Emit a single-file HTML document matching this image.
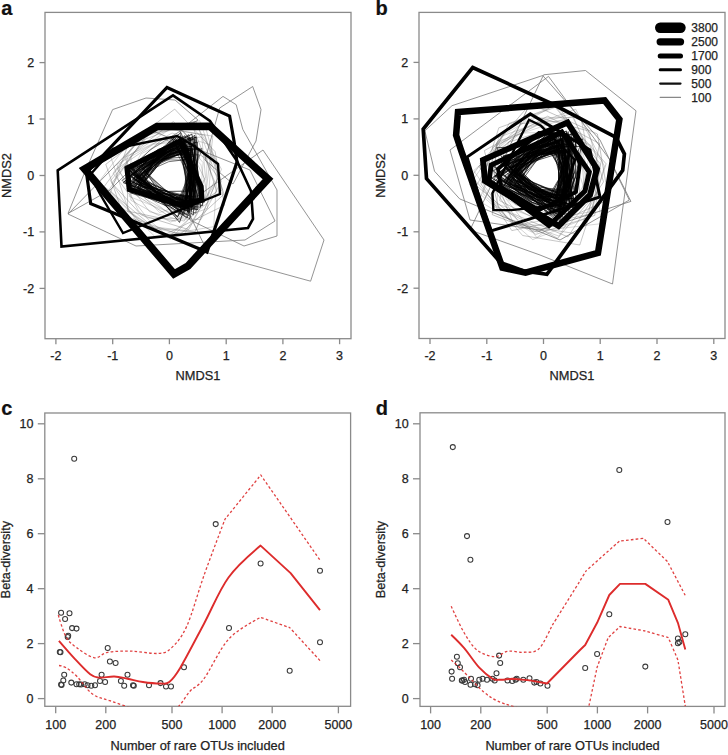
<!DOCTYPE html><html><head><meta charset="utf-8"><style>html,body{margin:0;padding:0;background:#fff;width:728px;height:755px;overflow:hidden}</style></head><body><svg width="728" height="755" viewBox="0 0 728 755" style="display:block">
<defs><clipPath id="ca"><rect x="45" y="12.4" width="306" height="326.3"/></clipPath><clipPath id="cb"><rect x="419" y="12.4" width="306" height="326.1"/></clipPath><clipPath id="cc"><rect x="44.8" y="413" width="305.8" height="293.3"/></clipPath><clipPath id="cd"><rect x="420" y="412.8" width="305" height="293.6"/></clipPath></defs>
<rect width="728" height="755" fill="#fff"/>
<text x="1.2" y="14.8" font-size="20" text-anchor="start" fill="#111" stroke="#111" stroke-width="0.2" font-weight="bold" font-family="Liberation Sans, sans-serif">a</text>
<text x="375.5" y="15.3" font-size="20" text-anchor="start" fill="#111" stroke="#111" stroke-width="0.2" font-weight="bold" font-family="Liberation Sans, sans-serif">b</text>
<text x="1.2" y="415.3" font-size="20" text-anchor="start" fill="#111" stroke="#111" stroke-width="0.2" font-weight="bold" font-family="Liberation Sans, sans-serif">c</text>
<text x="375.8" y="415.3" font-size="20" text-anchor="start" fill="#111" stroke="#111" stroke-width="0.2" font-weight="bold" font-family="Liberation Sans, sans-serif">d</text>
<rect x="45" y="12.4" width="306" height="326.3" fill="none" stroke="#8a8a8a" stroke-width="1.3"/>
<line x1="55.9" y1="338.7" x2="55.9" y2="344.2" stroke="#8a8a8a" stroke-width="1.3"/>
<text x="55.9" y="359.7" font-size="12.5" text-anchor="middle" fill="#222" stroke="#222" stroke-width="0.25" font-weight="normal" font-family="Liberation Sans, sans-serif">-2</text>
<line x1="112.7" y1="338.7" x2="112.7" y2="344.2" stroke="#8a8a8a" stroke-width="1.3"/>
<text x="112.7" y="359.7" font-size="12.5" text-anchor="middle" fill="#222" stroke="#222" stroke-width="0.25" font-weight="normal" font-family="Liberation Sans, sans-serif">-1</text>
<line x1="169.4" y1="338.7" x2="169.4" y2="344.2" stroke="#8a8a8a" stroke-width="1.3"/>
<text x="169.4" y="359.7" font-size="12.5" text-anchor="middle" fill="#222" stroke="#222" stroke-width="0.25" font-weight="normal" font-family="Liberation Sans, sans-serif">0</text>
<line x1="226.2" y1="338.7" x2="226.2" y2="344.2" stroke="#8a8a8a" stroke-width="1.3"/>
<text x="226.2" y="359.7" font-size="12.5" text-anchor="middle" fill="#222" stroke="#222" stroke-width="0.25" font-weight="normal" font-family="Liberation Sans, sans-serif">1</text>
<line x1="282.9" y1="338.7" x2="282.9" y2="344.2" stroke="#8a8a8a" stroke-width="1.3"/>
<text x="282.9" y="359.7" font-size="12.5" text-anchor="middle" fill="#222" stroke="#222" stroke-width="0.25" font-weight="normal" font-family="Liberation Sans, sans-serif">2</text>
<line x1="339.6" y1="338.7" x2="339.6" y2="344.2" stroke="#8a8a8a" stroke-width="1.3"/>
<text x="339.6" y="359.7" font-size="12.5" text-anchor="middle" fill="#222" stroke="#222" stroke-width="0.25" font-weight="normal" font-family="Liberation Sans, sans-serif">3</text>
<line x1="39.5" y1="62.6" x2="45.0" y2="62.6" stroke="#8a8a8a" stroke-width="1.3"/>
<text x="34.2" y="67.0" font-size="12.5" text-anchor="end" fill="#222" stroke="#222" stroke-width="0.25" font-weight="normal" font-family="Liberation Sans, sans-serif">2</text>
<line x1="39.5" y1="119.0" x2="45.0" y2="119.0" stroke="#8a8a8a" stroke-width="1.3"/>
<text x="34.2" y="123.5" font-size="12.5" text-anchor="end" fill="#222" stroke="#222" stroke-width="0.25" font-weight="normal" font-family="Liberation Sans, sans-serif">1</text>
<line x1="39.5" y1="175.5" x2="45.0" y2="175.5" stroke="#8a8a8a" stroke-width="1.3"/>
<text x="34.2" y="179.9" font-size="12.5" text-anchor="end" fill="#222" stroke="#222" stroke-width="0.25" font-weight="normal" font-family="Liberation Sans, sans-serif">0</text>
<line x1="39.5" y1="231.9" x2="45.0" y2="231.9" stroke="#8a8a8a" stroke-width="1.3"/>
<text x="34.2" y="236.3" font-size="12.5" text-anchor="end" fill="#222" stroke="#222" stroke-width="0.25" font-weight="normal" font-family="Liberation Sans, sans-serif">-1</text>
<line x1="39.5" y1="288.4" x2="45.0" y2="288.4" stroke="#8a8a8a" stroke-width="1.3"/>
<text x="34.2" y="292.8" font-size="12.5" text-anchor="end" fill="#222" stroke="#222" stroke-width="0.25" font-weight="normal" font-family="Liberation Sans, sans-serif">-2</text>
<text x="198.0" y="379.6" font-size="12.8" text-anchor="middle" fill="#222" stroke="#222" stroke-width="0.25" font-weight="normal" font-family="Liberation Sans, sans-serif">NMDS1</text>
<text x="11.0" y="175.5" font-size="12.8" text-anchor="middle" fill="#222" stroke="#222" stroke-width="0.25" font-weight="normal" font-family="Liberation Sans, sans-serif" transform="rotate(-90 11 175.54999999999998)">NMDS2</text>
<rect x="419" y="12.4" width="306" height="326.1" fill="none" stroke="#8a8a8a" stroke-width="1.3"/>
<line x1="430.0" y1="338.5" x2="430.0" y2="344.0" stroke="#8a8a8a" stroke-width="1.3"/>
<text x="430.0" y="359.7" font-size="12.5" text-anchor="middle" fill="#222" stroke="#222" stroke-width="0.25" font-weight="normal" font-family="Liberation Sans, sans-serif">-2</text>
<line x1="486.8" y1="338.5" x2="486.8" y2="344.0" stroke="#8a8a8a" stroke-width="1.3"/>
<text x="486.8" y="359.7" font-size="12.5" text-anchor="middle" fill="#222" stroke="#222" stroke-width="0.25" font-weight="normal" font-family="Liberation Sans, sans-serif">-1</text>
<line x1="543.5" y1="338.5" x2="543.5" y2="344.0" stroke="#8a8a8a" stroke-width="1.3"/>
<text x="543.5" y="359.7" font-size="12.5" text-anchor="middle" fill="#222" stroke="#222" stroke-width="0.25" font-weight="normal" font-family="Liberation Sans, sans-serif">0</text>
<line x1="600.2" y1="338.5" x2="600.2" y2="344.0" stroke="#8a8a8a" stroke-width="1.3"/>
<text x="600.2" y="359.7" font-size="12.5" text-anchor="middle" fill="#222" stroke="#222" stroke-width="0.25" font-weight="normal" font-family="Liberation Sans, sans-serif">1</text>
<line x1="657.0" y1="338.5" x2="657.0" y2="344.0" stroke="#8a8a8a" stroke-width="1.3"/>
<text x="657.0" y="359.7" font-size="12.5" text-anchor="middle" fill="#222" stroke="#222" stroke-width="0.25" font-weight="normal" font-family="Liberation Sans, sans-serif">2</text>
<line x1="713.8" y1="338.5" x2="713.8" y2="344.0" stroke="#8a8a8a" stroke-width="1.3"/>
<text x="713.8" y="359.7" font-size="12.5" text-anchor="middle" fill="#222" stroke="#222" stroke-width="0.25" font-weight="normal" font-family="Liberation Sans, sans-serif">3</text>
<line x1="413.5" y1="62.4" x2="419.0" y2="62.4" stroke="#8a8a8a" stroke-width="1.3"/>
<text x="408.2" y="66.8" font-size="12.5" text-anchor="end" fill="#222" stroke="#222" stroke-width="0.25" font-weight="normal" font-family="Liberation Sans, sans-serif">2</text>
<line x1="413.5" y1="118.9" x2="419.0" y2="118.9" stroke="#8a8a8a" stroke-width="1.3"/>
<text x="408.2" y="123.3" font-size="12.5" text-anchor="end" fill="#222" stroke="#222" stroke-width="0.25" font-weight="normal" font-family="Liberation Sans, sans-serif">1</text>
<line x1="413.5" y1="175.3" x2="419.0" y2="175.3" stroke="#8a8a8a" stroke-width="1.3"/>
<text x="408.2" y="179.7" font-size="12.5" text-anchor="end" fill="#222" stroke="#222" stroke-width="0.25" font-weight="normal" font-family="Liberation Sans, sans-serif">0</text>
<line x1="413.5" y1="231.8" x2="419.0" y2="231.8" stroke="#8a8a8a" stroke-width="1.3"/>
<text x="408.2" y="236.2" font-size="12.5" text-anchor="end" fill="#222" stroke="#222" stroke-width="0.25" font-weight="normal" font-family="Liberation Sans, sans-serif">-1</text>
<line x1="413.5" y1="288.2" x2="419.0" y2="288.2" stroke="#8a8a8a" stroke-width="1.3"/>
<text x="408.2" y="292.6" font-size="12.5" text-anchor="end" fill="#222" stroke="#222" stroke-width="0.25" font-weight="normal" font-family="Liberation Sans, sans-serif">-2</text>
<text x="572.0" y="379.6" font-size="12.8" text-anchor="middle" fill="#222" stroke="#222" stroke-width="0.25" font-weight="normal" font-family="Liberation Sans, sans-serif">NMDS1</text>
<text x="385.0" y="175.4" font-size="12.8" text-anchor="middle" fill="#222" stroke="#222" stroke-width="0.25" font-weight="normal" font-family="Liberation Sans, sans-serif" transform="rotate(-90 385 175.45)">NMDS2</text>
<rect x="44.8" y="413" width="305.8" height="293.29999999999995" fill="none" stroke="#8a8a8a" stroke-width="1.3"/>
<line x1="55.7" y1="706.3" x2="55.7" y2="713.3" stroke="#8a8a8a" stroke-width="1.3"/>
<text x="55.7" y="729.4" font-size="12.5" text-anchor="middle" fill="#222" stroke="#222" stroke-width="0.25" font-weight="normal" font-family="Liberation Sans, sans-serif">100</text>
<line x1="105.8" y1="706.3" x2="105.8" y2="713.3" stroke="#8a8a8a" stroke-width="1.3"/>
<text x="105.8" y="729.4" font-size="12.5" text-anchor="middle" fill="#222" stroke="#222" stroke-width="0.25" font-weight="normal" font-family="Liberation Sans, sans-serif">200</text>
<line x1="172.0" y1="706.3" x2="172.0" y2="713.3" stroke="#8a8a8a" stroke-width="1.3"/>
<text x="172.0" y="729.4" font-size="12.5" text-anchor="middle" fill="#222" stroke="#222" stroke-width="0.25" font-weight="normal" font-family="Liberation Sans, sans-serif">500</text>
<line x1="222.1" y1="706.3" x2="222.1" y2="713.3" stroke="#8a8a8a" stroke-width="1.3"/>
<text x="222.1" y="729.4" font-size="12.5" text-anchor="middle" fill="#222" stroke="#222" stroke-width="0.25" font-weight="normal" font-family="Liberation Sans, sans-serif">1000</text>
<line x1="272.2" y1="706.3" x2="272.2" y2="713.3" stroke="#8a8a8a" stroke-width="1.3"/>
<text x="272.2" y="729.4" font-size="12.5" text-anchor="middle" fill="#222" stroke="#222" stroke-width="0.25" font-weight="normal" font-family="Liberation Sans, sans-serif">2000</text>
<line x1="338.4" y1="706.3" x2="338.4" y2="713.3" stroke="#8a8a8a" stroke-width="1.3"/>
<text x="338.4" y="729.4" font-size="12.5" text-anchor="middle" fill="#222" stroke="#222" stroke-width="0.25" font-weight="normal" font-family="Liberation Sans, sans-serif">5000</text>
<line x1="37.8" y1="698.6" x2="44.8" y2="698.6" stroke="#8a8a8a" stroke-width="1.3"/>
<text x="33.5" y="703.0" font-size="12.5" text-anchor="end" fill="#222" stroke="#222" stroke-width="0.25" font-weight="normal" font-family="Liberation Sans, sans-serif">0</text>
<line x1="37.8" y1="643.6" x2="44.8" y2="643.6" stroke="#8a8a8a" stroke-width="1.3"/>
<text x="33.5" y="648.0" font-size="12.5" text-anchor="end" fill="#222" stroke="#222" stroke-width="0.25" font-weight="normal" font-family="Liberation Sans, sans-serif">2</text>
<line x1="37.8" y1="588.7" x2="44.8" y2="588.7" stroke="#8a8a8a" stroke-width="1.3"/>
<text x="33.5" y="593.1" font-size="12.5" text-anchor="end" fill="#222" stroke="#222" stroke-width="0.25" font-weight="normal" font-family="Liberation Sans, sans-serif">4</text>
<line x1="37.8" y1="533.7" x2="44.8" y2="533.7" stroke="#8a8a8a" stroke-width="1.3"/>
<text x="33.5" y="538.1" font-size="12.5" text-anchor="end" fill="#222" stroke="#222" stroke-width="0.25" font-weight="normal" font-family="Liberation Sans, sans-serif">6</text>
<line x1="37.8" y1="478.8" x2="44.8" y2="478.8" stroke="#8a8a8a" stroke-width="1.3"/>
<text x="33.5" y="483.2" font-size="12.5" text-anchor="end" fill="#222" stroke="#222" stroke-width="0.25" font-weight="normal" font-family="Liberation Sans, sans-serif">8</text>
<line x1="37.8" y1="423.8" x2="44.8" y2="423.8" stroke="#8a8a8a" stroke-width="1.3"/>
<text x="33.5" y="428.2" font-size="12.5" text-anchor="end" fill="#222" stroke="#222" stroke-width="0.25" font-weight="normal" font-family="Liberation Sans, sans-serif">10</text>
<text x="197.7" y="749.6" font-size="12.8" text-anchor="middle" fill="#222" stroke="#222" stroke-width="0.25" font-weight="normal" font-family="Liberation Sans, sans-serif">Number of rare OTUs included</text>
<text x="10.3" y="559.6" font-size="12.8" text-anchor="middle" fill="#222" stroke="#222" stroke-width="0.25" font-weight="normal" font-family="Liberation Sans, sans-serif" transform="rotate(-90 10.299999999999997 559.65)">Beta-diversity</text>
<rect x="420" y="412.8" width="305" height="293.59999999999997" fill="none" stroke="#8a8a8a" stroke-width="1.3"/>
<line x1="430.6" y1="706.4" x2="430.6" y2="713.4" stroke="#8a8a8a" stroke-width="1.3"/>
<text x="430.6" y="729.4" font-size="12.5" text-anchor="middle" fill="#222" stroke="#222" stroke-width="0.25" font-weight="normal" font-family="Liberation Sans, sans-serif">100</text>
<line x1="480.8" y1="706.4" x2="480.8" y2="713.4" stroke="#8a8a8a" stroke-width="1.3"/>
<text x="480.8" y="729.4" font-size="12.5" text-anchor="middle" fill="#222" stroke="#222" stroke-width="0.25" font-weight="normal" font-family="Liberation Sans, sans-serif">200</text>
<line x1="547.2" y1="706.4" x2="547.2" y2="713.4" stroke="#8a8a8a" stroke-width="1.3"/>
<text x="547.2" y="729.4" font-size="12.5" text-anchor="middle" fill="#222" stroke="#222" stroke-width="0.25" font-weight="normal" font-family="Liberation Sans, sans-serif">500</text>
<line x1="597.4" y1="706.4" x2="597.4" y2="713.4" stroke="#8a8a8a" stroke-width="1.3"/>
<text x="597.4" y="729.4" font-size="12.5" text-anchor="middle" fill="#222" stroke="#222" stroke-width="0.25" font-weight="normal" font-family="Liberation Sans, sans-serif">1000</text>
<line x1="647.6" y1="706.4" x2="647.6" y2="713.4" stroke="#8a8a8a" stroke-width="1.3"/>
<text x="647.6" y="729.4" font-size="12.5" text-anchor="middle" fill="#222" stroke="#222" stroke-width="0.25" font-weight="normal" font-family="Liberation Sans, sans-serif">2000</text>
<line x1="714.0" y1="706.4" x2="714.0" y2="713.4" stroke="#8a8a8a" stroke-width="1.3"/>
<text x="714.0" y="729.4" font-size="12.5" text-anchor="middle" fill="#222" stroke="#222" stroke-width="0.25" font-weight="normal" font-family="Liberation Sans, sans-serif">5000</text>
<line x1="413.0" y1="698.6" x2="420.0" y2="698.6" stroke="#8a8a8a" stroke-width="1.3"/>
<text x="408.7" y="703.0" font-size="12.5" text-anchor="end" fill="#222" stroke="#222" stroke-width="0.25" font-weight="normal" font-family="Liberation Sans, sans-serif">0</text>
<line x1="413.0" y1="643.6" x2="420.0" y2="643.6" stroke="#8a8a8a" stroke-width="1.3"/>
<text x="408.7" y="648.0" font-size="12.5" text-anchor="end" fill="#222" stroke="#222" stroke-width="0.25" font-weight="normal" font-family="Liberation Sans, sans-serif">2</text>
<line x1="413.0" y1="588.7" x2="420.0" y2="588.7" stroke="#8a8a8a" stroke-width="1.3"/>
<text x="408.7" y="593.1" font-size="12.5" text-anchor="end" fill="#222" stroke="#222" stroke-width="0.25" font-weight="normal" font-family="Liberation Sans, sans-serif">4</text>
<line x1="413.0" y1="533.7" x2="420.0" y2="533.7" stroke="#8a8a8a" stroke-width="1.3"/>
<text x="408.7" y="538.1" font-size="12.5" text-anchor="end" fill="#222" stroke="#222" stroke-width="0.25" font-weight="normal" font-family="Liberation Sans, sans-serif">6</text>
<line x1="413.0" y1="478.8" x2="420.0" y2="478.8" stroke="#8a8a8a" stroke-width="1.3"/>
<text x="408.7" y="483.2" font-size="12.5" text-anchor="end" fill="#222" stroke="#222" stroke-width="0.25" font-weight="normal" font-family="Liberation Sans, sans-serif">8</text>
<line x1="413.0" y1="423.8" x2="420.0" y2="423.8" stroke="#8a8a8a" stroke-width="1.3"/>
<text x="408.7" y="428.2" font-size="12.5" text-anchor="end" fill="#222" stroke="#222" stroke-width="0.25" font-weight="normal" font-family="Liberation Sans, sans-serif">10</text>
<text x="572.5" y="749.6" font-size="12.8" text-anchor="middle" fill="#222" stroke="#222" stroke-width="0.25" font-weight="normal" font-family="Liberation Sans, sans-serif">Number of rare OTUs included</text>
<text x="385.5" y="559.6" font-size="12.8" text-anchor="middle" fill="#222" stroke="#222" stroke-width="0.25" font-weight="normal" font-family="Liberation Sans, sans-serif" transform="rotate(-90 385.5 559.6)">Beta-diversity</text>
<circle cx="74.2" cy="458.8" r="2.5" fill="none" stroke="#3a3a3a" stroke-width="1.05"/>
<circle cx="215.7" cy="524.1" r="2.5" fill="none" stroke="#3a3a3a" stroke-width="1.05"/>
<circle cx="260.6" cy="563.5" r="2.5" fill="none" stroke="#3a3a3a" stroke-width="1.05"/>
<circle cx="320.0" cy="570.8" r="2.5" fill="none" stroke="#3a3a3a" stroke-width="1.05"/>
<circle cx="229.0" cy="627.9" r="2.5" fill="none" stroke="#3a3a3a" stroke-width="1.05"/>
<circle cx="320.0" cy="642.2" r="2.5" fill="none" stroke="#3a3a3a" stroke-width="1.05"/>
<circle cx="289.7" cy="670.8" r="2.5" fill="none" stroke="#3a3a3a" stroke-width="1.05"/>
<circle cx="61.1" cy="612.7" r="2.5" fill="none" stroke="#3a3a3a" stroke-width="1.05"/>
<circle cx="69.5" cy="613.2" r="2.5" fill="none" stroke="#3a3a3a" stroke-width="1.05"/>
<circle cx="65.1" cy="618.9" r="2.5" fill="none" stroke="#3a3a3a" stroke-width="1.05"/>
<circle cx="72.1" cy="628.1" r="2.5" fill="none" stroke="#3a3a3a" stroke-width="1.05"/>
<circle cx="76.5" cy="628.6" r="2.5" fill="none" stroke="#3a3a3a" stroke-width="1.05"/>
<circle cx="68.2" cy="635.8" r="2.5" fill="none" stroke="#3a3a3a" stroke-width="1.05"/>
<circle cx="67.7" cy="636.9" r="2.5" fill="none" stroke="#3a3a3a" stroke-width="1.05"/>
<circle cx="59.8" cy="651.9" r="2.5" fill="none" stroke="#3a3a3a" stroke-width="1.05"/>
<circle cx="60.5" cy="652.2" r="2.5" fill="none" stroke="#3a3a3a" stroke-width="1.05"/>
<circle cx="107.7" cy="647.9" r="2.5" fill="none" stroke="#3a3a3a" stroke-width="1.05"/>
<circle cx="109.9" cy="661.5" r="2.5" fill="none" stroke="#3a3a3a" stroke-width="1.05"/>
<circle cx="115.6" cy="662.9" r="2.5" fill="none" stroke="#3a3a3a" stroke-width="1.05"/>
<circle cx="64.2" cy="674.7" r="2.5" fill="none" stroke="#3a3a3a" stroke-width="1.05"/>
<circle cx="63.3" cy="680.4" r="2.5" fill="none" stroke="#3a3a3a" stroke-width="1.05"/>
<circle cx="61.1" cy="684.4" r="2.5" fill="none" stroke="#3a3a3a" stroke-width="1.05"/>
<circle cx="61.6" cy="684.9" r="2.5" fill="none" stroke="#3a3a3a" stroke-width="1.05"/>
<circle cx="71.3" cy="682.6" r="2.5" fill="none" stroke="#3a3a3a" stroke-width="1.05"/>
<circle cx="76.5" cy="684.2" r="2.5" fill="none" stroke="#3a3a3a" stroke-width="1.05"/>
<circle cx="79.2" cy="684.2" r="2.5" fill="none" stroke="#3a3a3a" stroke-width="1.05"/>
<circle cx="81.0" cy="684.5" r="2.5" fill="none" stroke="#3a3a3a" stroke-width="1.05"/>
<circle cx="84.7" cy="684.2" r="2.5" fill="none" stroke="#3a3a3a" stroke-width="1.05"/>
<circle cx="87.5" cy="685.3" r="2.5" fill="none" stroke="#3a3a3a" stroke-width="1.05"/>
<circle cx="91.3" cy="685.7" r="2.5" fill="none" stroke="#3a3a3a" stroke-width="1.05"/>
<circle cx="95.0" cy="685.3" r="2.5" fill="none" stroke="#3a3a3a" stroke-width="1.05"/>
<circle cx="101.6" cy="674.7" r="2.5" fill="none" stroke="#3a3a3a" stroke-width="1.05"/>
<circle cx="100.0" cy="680.9" r="2.5" fill="none" stroke="#3a3a3a" stroke-width="1.05"/>
<circle cx="105.1" cy="682.0" r="2.5" fill="none" stroke="#3a3a3a" stroke-width="1.05"/>
<circle cx="120.9" cy="680.9" r="2.5" fill="none" stroke="#3a3a3a" stroke-width="1.05"/>
<circle cx="127.5" cy="674.7" r="2.5" fill="none" stroke="#3a3a3a" stroke-width="1.05"/>
<circle cx="124.2" cy="685.7" r="2.5" fill="none" stroke="#3a3a3a" stroke-width="1.05"/>
<circle cx="133.0" cy="685.3" r="2.5" fill="none" stroke="#3a3a3a" stroke-width="1.05"/>
<circle cx="133.8" cy="685.8" r="2.5" fill="none" stroke="#3a3a3a" stroke-width="1.05"/>
<circle cx="149.0" cy="685.3" r="2.5" fill="none" stroke="#3a3a3a" stroke-width="1.05"/>
<circle cx="160.5" cy="683.1" r="2.5" fill="none" stroke="#3a3a3a" stroke-width="1.05"/>
<circle cx="166.0" cy="686.4" r="2.5" fill="none" stroke="#3a3a3a" stroke-width="1.05"/>
<circle cx="171.0" cy="686.4" r="2.5" fill="none" stroke="#3a3a3a" stroke-width="1.05"/>
<circle cx="184.0" cy="667.3" r="2.5" fill="none" stroke="#3a3a3a" stroke-width="1.05"/>
<path d="M58.3,615.0 C58.3,615.0 62.9,631.4 66.0,636.9 C69.1,642.4 72.2,644.4 77.0,647.9 C81.8,651.4 89.4,657.1 94.5,657.8 C99.6,658.5 101.5,653.4 107.7,652.3 C113.9,651.2 123.5,651.0 131.9,651.2 C140.3,651.4 151.7,654.0 158.3,653.4 C164.9,652.8 166.7,652.5 171.5,647.9 C176.3,643.3 181.5,638.0 186.9,625.9 C192.3,613.8 197.7,593.2 204.0,575.4 C210.3,557.6 225.0,519.2 225.0,519.2 C225.0,519.2 260.8,475.0 260.8,475.0 C260.8,475.0 320.0,560.2 320.0,560.2" fill="none" stroke="#dd2c2c" stroke-width="1.3" stroke-dasharray="2.6 2.2" stroke-linejoin="round" clip-path="url(#cc)" opacity="0.9"/>
<path d="M59.0,665.5 C59.0,665.5 63.0,665.9 66.0,667.7 C69.0,669.5 72.6,672.1 77.0,676.5 C81.4,680.9 86.9,690.0 92.4,694.0 C97.9,698.0 103.3,698.4 109.9,700.7 C116.5,703.0 125.2,706.1 131.9,708.0 C138.6,709.9 144.5,711.5 150.0,712.0 C155.5,712.5 160.3,711.9 165.0,711.0 C169.7,710.1 173.8,710.1 178.0,706.8 C182.2,703.5 185.7,695.9 190.0,691.2 C194.3,686.5 197.5,687.5 204.0,678.7 C210.5,670.0 219.6,648.9 229.0,638.7 C238.4,628.5 260.6,617.4 260.6,617.4 C260.6,617.4 289.7,627.6 289.7,627.6 C289.7,627.6 320.0,660.6 320.0,660.6" fill="none" stroke="#dd2c2c" stroke-width="1.3" stroke-dasharray="2.6 2.2" stroke-linejoin="round" clip-path="url(#cc)" opacity="0.9"/>
<path d="M58.9,640.9 C58.9,640.9 69.6,653.3 74.8,658.9 C80.0,664.5 86.2,671.2 90.2,674.3 C94.2,677.4 94.9,677.2 98.9,677.6 C102.9,678.0 109.5,676.3 114.3,676.5 C119.1,676.7 122.7,677.8 127.5,678.7 C132.3,679.6 137.4,681.2 142.9,682.0 C148.4,682.8 156.1,683.5 160.5,683.5 C164.9,683.5 166.0,684.6 169.3,682.0 C172.6,679.4 174.5,677.4 180.3,667.7 C186.1,658.0 196.0,638.7 204.0,623.7 C212.0,608.7 219.1,590.5 228.5,577.5 C237.9,564.5 260.6,545.6 260.6,545.6 C260.6,545.6 290.6,573.1 290.6,573.1 C290.6,573.1 320.0,610.1 320.0,610.1" fill="none" stroke="#dd2c2c" stroke-width="1.9" stroke-linejoin="round" clip-path="url(#cc)"/>
<circle cx="452.8" cy="447.1" r="2.5" fill="none" stroke="#3a3a3a" stroke-width="1.05"/>
<circle cx="467.0" cy="536.1" r="2.5" fill="none" stroke="#3a3a3a" stroke-width="1.05"/>
<circle cx="470.4" cy="559.8" r="2.5" fill="none" stroke="#3a3a3a" stroke-width="1.05"/>
<circle cx="619.3" cy="470.0" r="2.5" fill="none" stroke="#3a3a3a" stroke-width="1.05"/>
<circle cx="667.5" cy="522.0" r="2.5" fill="none" stroke="#3a3a3a" stroke-width="1.05"/>
<circle cx="609.3" cy="614.3" r="2.5" fill="none" stroke="#3a3a3a" stroke-width="1.05"/>
<circle cx="597.1" cy="654.0" r="2.5" fill="none" stroke="#3a3a3a" stroke-width="1.05"/>
<circle cx="585.2" cy="668.0" r="2.5" fill="none" stroke="#3a3a3a" stroke-width="1.05"/>
<circle cx="645.3" cy="666.6" r="2.5" fill="none" stroke="#3a3a3a" stroke-width="1.05"/>
<circle cx="677.9" cy="638.4" r="2.5" fill="none" stroke="#3a3a3a" stroke-width="1.05"/>
<circle cx="679.4" cy="642.1" r="2.5" fill="none" stroke="#3a3a3a" stroke-width="1.05"/>
<circle cx="677.9" cy="643.2" r="2.5" fill="none" stroke="#3a3a3a" stroke-width="1.05"/>
<circle cx="685.3" cy="634.3" r="2.5" fill="none" stroke="#3a3a3a" stroke-width="1.05"/>
<circle cx="456.9" cy="656.7" r="2.5" fill="none" stroke="#3a3a3a" stroke-width="1.05"/>
<circle cx="457.8" cy="663.3" r="2.5" fill="none" stroke="#3a3a3a" stroke-width="1.05"/>
<circle cx="460.0" cy="667.3" r="2.5" fill="none" stroke="#3a3a3a" stroke-width="1.05"/>
<circle cx="451.6" cy="671.6" r="2.5" fill="none" stroke="#3a3a3a" stroke-width="1.05"/>
<circle cx="452.1" cy="678.7" r="2.5" fill="none" stroke="#3a3a3a" stroke-width="1.05"/>
<circle cx="461.8" cy="680.4" r="2.5" fill="none" stroke="#3a3a3a" stroke-width="1.05"/>
<circle cx="462.3" cy="680.6" r="2.5" fill="none" stroke="#3a3a3a" stroke-width="1.05"/>
<circle cx="464.0" cy="679.8" r="2.5" fill="none" stroke="#3a3a3a" stroke-width="1.05"/>
<circle cx="465.1" cy="682.0" r="2.5" fill="none" stroke="#3a3a3a" stroke-width="1.05"/>
<circle cx="471.0" cy="678.7" r="2.5" fill="none" stroke="#3a3a3a" stroke-width="1.05"/>
<circle cx="470.5" cy="684.8" r="2.5" fill="none" stroke="#3a3a3a" stroke-width="1.05"/>
<circle cx="475.0" cy="684.2" r="2.5" fill="none" stroke="#3a3a3a" stroke-width="1.05"/>
<circle cx="477.6" cy="685.3" r="2.5" fill="none" stroke="#3a3a3a" stroke-width="1.05"/>
<circle cx="479.3" cy="679.8" r="2.5" fill="none" stroke="#3a3a3a" stroke-width="1.05"/>
<circle cx="482.6" cy="678.7" r="2.5" fill="none" stroke="#3a3a3a" stroke-width="1.05"/>
<circle cx="487.0" cy="679.8" r="2.5" fill="none" stroke="#3a3a3a" stroke-width="1.05"/>
<circle cx="492.5" cy="678.7" r="2.5" fill="none" stroke="#3a3a3a" stroke-width="1.05"/>
<circle cx="494.7" cy="680.4" r="2.5" fill="none" stroke="#3a3a3a" stroke-width="1.05"/>
<circle cx="496.5" cy="673.2" r="2.5" fill="none" stroke="#3a3a3a" stroke-width="1.05"/>
<circle cx="499.1" cy="655.6" r="2.5" fill="none" stroke="#3a3a3a" stroke-width="1.05"/>
<circle cx="500.2" cy="662.9" r="2.5" fill="none" stroke="#3a3a3a" stroke-width="1.05"/>
<circle cx="507.5" cy="680.4" r="2.5" fill="none" stroke="#3a3a3a" stroke-width="1.05"/>
<circle cx="512.3" cy="680.9" r="2.5" fill="none" stroke="#3a3a3a" stroke-width="1.05"/>
<circle cx="515.6" cy="679.8" r="2.5" fill="none" stroke="#3a3a3a" stroke-width="1.05"/>
<circle cx="516.7" cy="678.7" r="2.5" fill="none" stroke="#3a3a3a" stroke-width="1.05"/>
<circle cx="523.3" cy="679.8" r="2.5" fill="none" stroke="#3a3a3a" stroke-width="1.05"/>
<circle cx="529.5" cy="678.2" r="2.5" fill="none" stroke="#3a3a3a" stroke-width="1.05"/>
<circle cx="534.3" cy="682.6" r="2.5" fill="none" stroke="#3a3a3a" stroke-width="1.05"/>
<circle cx="536.5" cy="682.0" r="2.5" fill="none" stroke="#3a3a3a" stroke-width="1.05"/>
<circle cx="540.4" cy="683.5" r="2.5" fill="none" stroke="#3a3a3a" stroke-width="1.05"/>
<circle cx="547.5" cy="685.7" r="2.5" fill="none" stroke="#3a3a3a" stroke-width="1.05"/>
<path d="M451.2,606.2 C451.2,606.2 459.7,625.2 464.0,632.5 C468.3,639.8 472.0,646.1 477.1,650.1 C482.2,654.1 489.6,656.5 494.7,656.7 C499.8,656.9 503.1,651.9 507.9,651.2 C512.7,650.5 518.2,652.7 523.3,652.3 C528.4,651.9 533.9,653.4 538.7,649.0 C543.5,644.6 551.9,625.9 551.9,625.9 C551.9,625.9 580.0,580.9 580.0,580.9 C580.0,580.9 586.0,571.0 586.0,571.0 C586.0,571.0 619.3,541.2 619.3,541.2 C619.3,541.2 643.4,538.3 643.4,538.3 C643.4,538.3 667.5,561.6 667.5,561.6 C667.5,561.6 686.0,596.9 686.0,596.9" fill="none" stroke="#dd2c2c" stroke-width="1.3" stroke-dasharray="2.6 2.2" stroke-linejoin="round" clip-path="url(#cd)" opacity="0.9"/>
<path d="M451.2,660.0 C451.2,660.0 454.5,662.8 457.4,665.5 C460.3,668.2 464.0,672.1 468.4,676.5 C472.8,680.9 478.9,687.9 483.7,691.9 C488.4,695.9 491.8,698.2 496.9,700.7 C502.0,703.2 507.3,704.6 514.5,706.8 C521.7,709.0 529.9,712.8 540.0,714.0 C550.1,715.2 566.9,715.3 575.0,714.0 C583.1,712.7 588.9,706.2 588.9,706.2 C588.9,706.2 597.1,667.3 597.1,667.3 C597.1,667.3 608.2,637.6 608.2,637.6 C608.2,637.6 620.0,626.5 620.0,626.5 C620.0,626.5 645.3,631.0 645.3,631.0 C645.3,631.0 668.3,637.6 668.3,637.6 C668.3,637.6 677.9,659.9 677.9,659.9 C677.9,659.9 685.3,706.2 685.3,706.2" fill="none" stroke="#dd2c2c" stroke-width="1.3" stroke-dasharray="2.6 2.2" stroke-linejoin="round" clip-path="url(#cd)" opacity="0.9"/>
<path d="M451.2,634.7 C451.2,634.7 459.3,642.4 464.0,647.9 C468.7,653.4 474.6,662.6 479.3,667.7 C484.1,672.8 489.2,676.7 492.5,678.7 C495.8,680.7 495.8,679.8 499.1,679.8 C502.4,679.8 512.3,678.7 512.3,678.7 C512.3,678.7 529.9,680.4 529.9,680.4 C529.9,680.4 547.0,683.5 547.0,683.5 C547.0,683.5 580.0,650.0 580.0,650.0 C580.0,650.0 585.2,645.0 585.2,645.0 C585.2,645.0 597.1,622.8 597.1,622.8 C597.1,622.8 609.3,595.0 609.3,595.0 C609.3,595.0 620.0,583.9 620.0,583.9 C620.0,583.9 645.3,583.9 645.3,583.9 C645.3,583.9 668.3,599.8 668.3,599.8 C668.3,599.8 677.9,622.8 677.9,622.8 C677.9,622.8 685.3,649.5 685.3,649.5" fill="none" stroke="#dd2c2c" stroke-width="1.9" stroke-linejoin="round" clip-path="url(#cd)"/>
<g clip-path="url(#ca)">
<polygon points="112.6,109.6 146.0,98.0 175.0,100.0 198.0,120.0 150.0,150.0 110.0,190.0 68.0,213.5 84.0,174.0" fill="none" stroke="#7a7a7a" stroke-width="0.9" stroke-linejoin="miter" stroke-miterlimit="3" opacity="0.9"/>
<polygon points="252.7,86.5 261.0,109.6 256.0,141.0 233.0,184.0 205.0,160.0 219.7,108.0" fill="none" stroke="#7a7a7a" stroke-width="0.9" stroke-linejoin="miter" stroke-miterlimit="3" opacity="0.9"/>
<polygon points="263.0,150.0 324.0,240.0 310.6,281.2 208.0,253.0 185.0,205.0" fill="none" stroke="#7a7a7a" stroke-width="0.9" stroke-linejoin="miter" stroke-miterlimit="3" opacity="0.9"/>
<polygon points="223.0,96.4 236.2,104.7 242.8,129.4 277.0,190.0 277.0,236.0 244.0,246.0 190.0,220.0 180.0,130.0" fill="none" stroke="#7a7a7a" stroke-width="0.9" stroke-linejoin="miter" stroke-miterlimit="3" opacity="0.9"/>
<polygon points="68.0,214.0 136.0,246.0 245.0,240.0 275.0,221.0 250.0,170.0 150.0,130.0" fill="none" stroke="#7a7a7a" stroke-width="0.9" stroke-linejoin="miter" stroke-miterlimit="3" opacity="0.9"/>
<polygon points="108.1,199.3 128.2,144.7 174.7,109.1 215.1,151.7 224.5,205.3 164.4,234.8" fill="none" stroke="#666" stroke-width="0.78" opacity="0.5"/>
<polygon points="127.7,211.2 127.0,157.3 173.4,121.6 204.7,153.6 216.8,191.7 175.3,221.1" fill="none" stroke="#666" stroke-width="0.80" opacity="0.5"/>
<polygon points="109.4,152.7 162.2,127.5 212.9,136.2 204.8,201.6 170.7,239.2 128.8,211.2" fill="none" stroke="#666" stroke-width="0.65" opacity="0.5"/>
<polygon points="99.0,181.7 132.3,137.8 199.7,120.7 217.3,169.9 213.7,226.7 154.8,236.4" fill="none" stroke="#666" stroke-width="0.58" opacity="0.5"/>
<polygon points="105.8,164.3 154.8,126.6 204.5,135.2 224.0,194.3 179.9,234.5 123.3,215.4" fill="none" stroke="#666" stroke-width="0.77" opacity="0.5"/>
<polygon points="127.1,170.1 162.3,139.9 201.8,137.0 205.5,177.6 178.6,218.2 145.1,198.8" fill="none" stroke="#666" stroke-width="0.61" opacity="0.5"/>
<polygon points="124.7,157.1 163.6,138.7 207.3,158.7 205.6,191.3 169.9,214.7 135.7,185.8" fill="none" stroke="#666" stroke-width="0.51" opacity="0.5"/>
<polygon points="130.9,200.3 131.0,154.7 176.4,125.0 211.1,161.8 207.5,208.3 170.5,222.0" fill="none" stroke="#666" stroke-width="0.59" opacity="0.5"/>
<polygon points="129.0,196.4 139.8,160.0 177.4,139.5 201.0,164.8 207.8,197.4 169.5,212.3" fill="none" stroke="#666" stroke-width="0.51" opacity="0.5"/>
<polygon points="116.9,168.8 153.7,144.1 186.2,141.0 204.9,179.4 184.2,221.1 149.5,211.7" fill="none" stroke="#666" stroke-width="0.66" opacity="0.5"/>
<polygon points="129.5,191.0 135.8,162.8 163.6,138.1 196.3,161.0 202.3,197.2 167.1,214.9" fill="none" stroke="#666" stroke-width="0.79" opacity="0.5"/>
<polygon points="110.5,180.8 148.9,135.1 196.1,121.3 217.5,179.4 183.9,234.7 138.9,224.6" fill="none" stroke="#666" stroke-width="0.61" opacity="0.5"/>
<polygon points="126.2,179.4 141.1,153.8 179.6,134.6 203.1,162.6 200.2,198.7 159.7,212.5" fill="none" stroke="#666" stroke-width="0.52" opacity="0.5"/>
<polygon points="104.2,186.5 137.0,142.3 179.6,126.1 218.1,177.1 195.2,231.9 154.7,228.3" fill="none" stroke="#666" stroke-width="0.73" opacity="0.5"/>
<polygon points="113.1,173.2 141.5,134.5 205.0,125.8 221.3,181.6 201.0,219.5 147.0,217.9" fill="none" stroke="#666" stroke-width="0.63" opacity="0.5"/>
<polygon points="116.8,164.7 172.1,133.0 209.8,144.6 222.4,189.7 168.6,236.7 138.3,210.8" fill="none" stroke="#666" stroke-width="0.57" opacity="0.5"/>
<polygon points="111.9,183.1 152.2,128.0 191.6,124.1 214.5,181.4 188.7,229.6 141.4,215.1" fill="none" stroke="#666" stroke-width="0.80" opacity="0.5"/>
<polygon points="109.2,189.5 147.7,132.8 194.5,121.5 221.5,169.2 195.0,231.5 144.3,225.9" fill="none" stroke="#666" stroke-width="0.60" opacity="0.5"/>
<polygon points="143.9,182.2 160.7,162.6 176.9,152.5 188.6,176.4 186.0,198.1 165.9,194.4" fill="none" stroke="#000" stroke-width="0.69" opacity="0.75"/>
<polygon points="127.1,188.5 153.3,158.8 178.1,136.2 195.0,163.0 202.3,199.8 169.8,197.5" fill="none" stroke="#000" stroke-width="0.78" opacity="0.75"/>
<polygon points="138.8,175.1 161.4,158.2 180.0,150.3 187.2,180.0 177.5,206.8 155.3,192.9" fill="none" stroke="#000" stroke-width="0.72" opacity="0.75"/>
<polygon points="139.5,176.6 158.4,158.5 187.9,148.1 194.9,178.2 187.6,209.5 161.3,197.0" fill="none" stroke="#000" stroke-width="0.91" opacity="0.75"/>
<polygon points="136.8,193.6 155.8,159.1 174.5,143.8 191.9,168.3 194.0,201.9 163.2,194.8" fill="none" stroke="#000" stroke-width="0.81" opacity="0.75"/>
<polygon points="123.3,182.7 149.5,157.9 191.9,134.1 198.0,173.7 197.8,209.7 162.8,197.5" fill="none" stroke="#000" stroke-width="0.95" opacity="0.75"/>
<polygon points="133.7,178.2 157.3,156.6 187.3,145.5 188.5,172.3 190.9,205.4 154.6,194.7" fill="none" stroke="#000" stroke-width="0.92" opacity="0.75"/>
<polygon points="133.0,178.8 154.7,156.1 188.1,146.4 191.9,181.5 188.5,209.3 155.2,195.5" fill="none" stroke="#000" stroke-width="0.71" opacity="0.75"/>
<polygon points="132.8,182.3 158.1,157.0 184.8,135.5 191.4,174.8 189.9,211.5 163.1,194.5" fill="none" stroke="#000" stroke-width="0.66" opacity="0.75"/>
<polygon points="132.4,172.0 162.6,152.7 190.3,148.2 190.7,181.0 181.8,211.6 155.0,193.0" fill="none" stroke="#000" stroke-width="0.72" opacity="0.75"/>
<polygon points="124.9,166.4 167.2,150.1 195.9,145.5 193.2,183.7 179.5,222.4 154.8,191.7" fill="none" stroke="#000" stroke-width="0.95" opacity="0.75"/>
<polygon points="131.2,181.7 157.7,154.2 183.6,138.9 195.7,175.4 194.8,210.0 155.7,200.0" fill="none" stroke="#000" stroke-width="0.61" opacity="0.75"/>
<polygon points="141.7,174.6 164.1,159.8 191.1,160.1 186.8,184.6 180.0,209.8 158.1,193.7" fill="none" stroke="#000" stroke-width="0.63" opacity="0.75"/>
<polygon points="141.2,167.8 165.6,159.0 190.7,148.8 191.0,178.8 177.5,200.7 161.6,186.5" fill="none" stroke="#000" stroke-width="0.62" opacity="0.75"/>
<polygon points="144.0,172.6 168.7,161.7 189.9,159.1 187.4,178.7 176.1,205.1 159.0,187.5" fill="none" stroke="#000" stroke-width="0.71" opacity="0.75"/>
<polygon points="135.3,174.6 166.0,153.0 194.9,135.4 193.4,175.5 190.5,206.0 157.2,189.8" fill="none" stroke="#000" stroke-width="0.96" opacity="0.75"/>
<polygon points="140.6,185.6 157.5,164.0 178.5,149.7 191.1,178.6 191.6,204.2 167.0,194.9" fill="none" stroke="#000" stroke-width="0.97" opacity="0.75"/>
<polygon points="124.8,181.7 154.7,153.5 187.5,136.3 196.7,169.5 200.7,200.7 165.4,202.1" fill="none" stroke="#000" stroke-width="0.78" opacity="0.75"/>
<polygon points="135.0,183.5 155.6,159.0 190.6,148.3 193.3,175.1 191.6,210.6 163.8,197.0" fill="none" stroke="#000" stroke-width="0.70" opacity="0.75"/>
<polygon points="144.9,180.3 159.4,161.4 179.0,150.2 187.2,168.7 195.5,191.0 168.4,191.4" fill="none" stroke="#000" stroke-width="0.99" opacity="0.75"/>
<polygon points="131.0,167.9 161.0,153.3 191.8,146.0 195.8,172.5 186.7,215.0 153.4,194.5" fill="none" stroke="#000" stroke-width="0.88" opacity="0.75"/>
<polygon points="142.6,168.6 159.7,157.4 190.6,153.2 188.5,177.4 180.6,200.8 160.1,187.9" fill="none" stroke="#000" stroke-width="0.61" opacity="0.75"/>
<polygon points="137.5,188.4 152.1,164.3 181.6,141.7 191.4,168.6 196.1,196.2 164.5,198.3" fill="none" stroke="#000" stroke-width="0.86" opacity="0.75"/>
<polygon points="137.8,183.4 156.5,163.4 184.1,142.3 190.2,176.5 189.4,201.1 167.2,197.2" fill="none" stroke="#000" stroke-width="0.95" opacity="0.75"/>
<polygon points="139.9,179.9 159.5,164.0 184.9,151.5 190.4,177.8 185.3,204.0 166.9,193.7" fill="none" stroke="#000" stroke-width="0.69" opacity="0.75"/>
<polygon points="137.1,166.7 163.6,155.3 192.8,149.8 193.6,180.6 183.1,205.9 154.0,190.6" fill="none" stroke="#000" stroke-width="0.66" opacity="0.75"/>
<polygon points="128.1,171.6 166.7,154.1 199.0,148.7 194.6,177.2 193.4,214.8 155.7,191.5" fill="none" stroke="#000" stroke-width="0.84" opacity="0.75"/>
<polygon points="138.8,177.6 153.7,161.4 174.0,141.1 189.5,172.0 191.0,196.9 161.4,192.7" fill="none" stroke="#000" stroke-width="0.83" opacity="0.75"/>
<polygon points="142.2,165.8 164.8,158.5 194.0,156.5 188.1,180.4 185.2,207.1 159.9,193.5" fill="none" stroke="#000" stroke-width="0.82" opacity="0.75"/>
<polygon points="128.8,189.5 151.9,161.2 180.6,135.9 194.4,167.6 200.7,207.1 165.0,205.3" fill="none" stroke="#000" stroke-width="0.87" opacity="0.75"/>
<polygon points="140.2,187.9 156.1,157.9 185.4,143.7 191.5,174.7 190.3,203.3 161.6,196.9" fill="none" stroke="#000" stroke-width="0.72" opacity="0.75"/>
<polygon points="143.2,184.0 160.2,162.5 186.3,150.8 189.8,175.9 185.5,201.3 161.7,192.0" fill="none" stroke="#000" stroke-width="0.86" opacity="0.75"/>
<polygon points="131.0,166.8 162.3,154.0 195.0,148.1 190.6,177.4 183.7,214.7 157.4,193.2" fill="none" stroke="#000" stroke-width="0.93" opacity="0.75"/>
<polygon points="135.9,170.5 158.2,155.5 182.0,141.1 191.3,177.3 188.9,204.6 159.4,190.1" fill="none" stroke="#000" stroke-width="0.68" opacity="0.75"/>
<polygon points="129.6,164.3 161.3,148.5 194.5,139.0 194.5,182.0 184.6,213.7 153.3,194.0" fill="none" stroke="#000" stroke-width="0.67" opacity="0.75"/>
<polygon points="129.8,176.4 159.9,157.5 190.6,138.4 194.7,169.0 196.9,209.9 166.5,199.3" fill="none" stroke="#000" stroke-width="0.67" opacity="0.75"/>
<polygon points="129.7,170.1 161.5,155.8 193.6,139.3 197.1,181.0 189.9,218.9 152.7,196.0" fill="none" stroke="#000" stroke-width="0.64" opacity="0.75"/>
<polygon points="138.4,186.6 159.4,158.7 174.7,139.5 192.0,171.6 190.6,198.4 162.5,190.5" fill="none" stroke="#000" stroke-width="0.88" opacity="0.75"/>
<polygon points="143.9,181.3 161.6,161.4 181.2,152.8 185.6,175.8 186.2,201.7 160.9,188.2" fill="none" stroke="#000" stroke-width="0.92" opacity="0.75"/>
<polygon points="129.7,167.2 160.5,150.6 188.9,134.6 191.6,172.7 183.8,209.2 157.6,194.8" fill="none" stroke="#000" stroke-width="0.79" opacity="0.75"/>
<polygon points="136.2,180.4 154.4,160.1 174.5,137.5 197.2,167.0 202.8,205.7 165.6,196.7" fill="none" stroke="#000" stroke-width="0.85" opacity="0.75"/>
<polygon points="127.1,181.4 150.1,157.9 180.9,132.5 193.0,163.4 201.2,200.7 162.0,198.6" fill="none" stroke="#000" stroke-width="0.86" opacity="0.75"/>
<polygon points="128.2,173.4 159.5,154.4 202.1,148.6 192.2,177.4 180.2,214.5 155.5,197.7" fill="none" stroke="#000" stroke-width="0.62" opacity="0.75"/>
<polygon points="130.9,174.1 154.8,158.7 181.0,137.7 188.2,169.9 192.1,204.2 162.5,192.2" fill="none" stroke="#000" stroke-width="0.92" opacity="0.75"/>
<polygon points="131.3,181.0 157.9,156.3 196.0,137.3 193.7,174.5 191.7,209.6 156.4,195.4" fill="none" stroke="#000" stroke-width="0.93" opacity="0.75"/>
<polygon points="135.3,172.5 162.4,156.1 191.4,147.6 190.1,183.2 177.3,217.3 156.2,195.0" fill="none" stroke="#000" stroke-width="0.74" opacity="0.75"/>
<polygon points="136.3,179.9 161.3,160.5 184.6,143.0 192.3,176.2 183.5,209.4 158.4,192.8" fill="none" stroke="#000" stroke-width="0.97" opacity="0.75"/>
<polygon points="126.3,166.4 158.2,152.5 190.5,137.6 191.6,178.5 189.1,215.8 155.9,194.6" fill="none" stroke="#000" stroke-width="0.66" opacity="0.75"/>
<polygon points="131.2,188.2 154.0,165.3 181.6,143.7 190.5,170.3 195.1,207.5 167.2,198.4" fill="none" stroke="#000" stroke-width="0.94" opacity="0.75"/>
<polygon points="130.7,193.0 153.3,162.7 180.7,141.5 192.5,172.8 198.7,202.5 163.3,202.2" fill="none" stroke="#000" stroke-width="0.92" opacity="0.75"/>
<polygon points="131.9,189.9 158.4,159.1 184.5,142.7 196.6,177.6 193.0,205.8 160.9,199.0" fill="none" stroke="#000" stroke-width="0.68" opacity="0.75"/>
<polygon points="138.5,185.0 157.4,157.5 179.5,142.7 189.4,168.8 194.7,197.7 163.4,190.4" fill="none" stroke="#000" stroke-width="0.85" opacity="0.75"/>
<polygon points="133.9,173.3 158.2,159.7 192.0,151.8 187.3,177.5 185.8,206.7 155.9,190.8" fill="none" stroke="#000" stroke-width="0.96" opacity="0.75"/>
<polygon points="130.7,172.1 160.5,152.7 189.6,137.4 196.0,171.4 192.3,206.8 162.9,197.7" fill="none" stroke="#000" stroke-width="0.94" opacity="0.75"/>
<polygon points="130.8,184.9 156.3,161.0 184.9,145.7 190.7,176.4 188.2,211.8 164.9,198.1" fill="none" stroke="#000" stroke-width="0.99" opacity="0.75"/>
<polygon points="138.4,170.4 158.9,157.2 178.6,145.7 185.8,177.7 182.3,200.0 155.1,190.6" fill="none" stroke="#000" stroke-width="0.64" opacity="0.75"/>
<polygon points="137.7,188.6 153.1,160.8 184.0,141.3 188.6,172.9 197.2,202.0 165.7,198.1" fill="none" stroke="#000" stroke-width="0.96" opacity="0.75"/>
<polygon points="145.6,172.3 162.4,160.3 189.2,147.6 188.5,171.4 184.5,199.6 165.8,191.0" fill="none" stroke="#000" stroke-width="0.73" opacity="0.75"/>
<polygon points="130.2,168.4 157.5,160.0 188.7,148.2 186.5,182.9 184.9,210.5 156.8,194.1" fill="none" stroke="#000" stroke-width="0.68" opacity="0.75"/>
<polygon points="137.5,176.3 160.1,160.7 190.1,150.5 191.4,176.6 187.5,208.5 159.5,195.0" fill="none" stroke="#000" stroke-width="0.95" opacity="0.75"/>
<polygon points="130.5,176.0 157.3,152.1 182.7,137.6 190.8,169.9 195.5,199.6 164.4,196.3" fill="none" stroke="#000" stroke-width="0.88" opacity="0.75"/>
<polygon points="132.2,182.0 157.7,160.8 175.7,140.5 190.1,171.3 198.8,199.9 161.2,193.1" fill="none" stroke="#000" stroke-width="0.84" opacity="0.75"/>
<polygon points="132.2,187.8 155.3,160.9 172.0,138.2 186.3,167.3 191.5,195.7 165.7,194.4" fill="none" stroke="#000" stroke-width="0.76" opacity="0.75"/>
<polygon points="128.0,172.9 158.0,149.4 196.3,136.9 197.9,179.5 187.1,218.1 155.3,196.5" fill="none" stroke="#000" stroke-width="0.85" opacity="0.75"/>
<polygon points="133.8,173.7 159.9,160.3 184.6,146.7 190.9,172.5 188.7,204.0 162.7,196.2" fill="none" stroke="#000" stroke-width="0.79" opacity="0.75"/>
<polygon points="134.6,171.3 161.9,155.2 187.0,152.7 188.9,176.1 186.9,206.8 157.5,194.5" fill="none" stroke="#000" stroke-width="0.69" opacity="0.75"/>
<polygon points="127.8,168.6 164.7,152.0 197.4,141.9 196.9,179.9 177.8,216.7 156.0,197.4" fill="none" stroke="#000" stroke-width="0.97" opacity="0.75"/>
<polygon points="130.6,166.3 164.5,154.8 199.1,154.9 188.6,182.3 178.2,208.5 154.3,189.2" fill="none" stroke="#000" stroke-width="0.62" opacity="0.75"/>
<polygon points="137.3,181.8 160.1,160.5 183.5,149.8 186.0,172.5 187.1,197.6 162.6,190.5" fill="none" stroke="#000" stroke-width="0.91" opacity="0.75"/>
<polygon points="121.8,180.4 157.5,158.4 184.7,140.0 195.9,172.9 196.0,213.1 157.7,200.7" fill="none" stroke="#000" stroke-width="0.62" opacity="0.75"/>
<polygon points="57.7,170.4 173.0,95.4 210.0,121.0 237.0,161.0 251.0,191.0 253.0,219.0 248.0,228.0 61.5,246.5" fill="none" stroke="#000" stroke-width="2.6" stroke-linejoin="miter" stroke-miterlimit="3" opacity="1"/>
<polygon points="167.0,87.5 229.6,116.0 234.0,141.0 237.0,162.0 207.0,252.0 116.0,214.0 90.7,203.7 86.5,173.0" fill="none" stroke="#000" stroke-width="3.2" stroke-linejoin="miter" stroke-miterlimit="3" opacity="1"/>
<polygon points="113.0,149.0 177.0,136.0 194.0,146.0 218.0,164.0 220.0,194.0 123.0,233.0 100.0,194.0 90.0,175.0" fill="none" stroke="#000" stroke-width="2.4" stroke-linejoin="miter" stroke-miterlimit="3" opacity="1"/>
<polygon points="127.1,168.3 180.0,141.1 201.0,186.5 201.9,200.0 180.0,204.6 129.4,189.5" fill="none" stroke="#000" stroke-width="5.4" stroke-linejoin="miter" stroke-miterlimit="3" opacity="1"/>
<polygon points="84.6,169.0 157.0,126.5 210.0,126.3 268.0,179.0 188.0,266.0 174.0,274.0" fill="none" stroke="#000" stroke-width="7.6" stroke-linejoin="miter" stroke-miterlimit="3" opacity="1"/>
</g>
<g clip-path="url(#cb)">
<polygon points="585.5,70.5 636.0,110.8 612.5,284.0 540.0,255.0 470.0,230.0 543.6,74.8" fill="none" stroke="#7a7a7a" stroke-width="0.9" stroke-linejoin="miter" stroke-miterlimit="3" opacity="0.9"/>
<polygon points="424.9,130.8 452.0,105.7 542.7,75.5 600.0,140.0 629.3,200.0 560.0,240.0 459.7,198.9 434.5,171.2" fill="none" stroke="#7a7a7a" stroke-width="0.9" stroke-linejoin="miter" stroke-miterlimit="3" opacity="0.9"/>
<polygon points="548.5,76.4 610.0,160.0 630.9,201.4 540.0,230.0 470.0,220.0 450.0,150.0" fill="none" stroke="#7a7a7a" stroke-width="0.9" stroke-linejoin="miter" stroke-miterlimit="3" opacity="0.9"/>
<polygon points="499.7,200.7 508.3,142.3 550.0,128.8 577.6,158.6 579.9,196.5 540.4,221.2" fill="none" stroke="#666" stroke-width="0.75" opacity="0.5"/>
<polygon points="476.5,185.9 509.0,123.5 554.6,106.3 600.2,163.8 594.8,215.4 535.8,234.4" fill="none" stroke="#666" stroke-width="0.76" opacity="0.5"/>
<polygon points="479.9,163.4 521.2,133.1 576.4,131.4 589.3,175.7 558.5,226.9 519.6,223.8" fill="none" stroke="#666" stroke-width="0.58" opacity="0.5"/>
<polygon points="492.4,147.5 541.0,122.9 591.2,145.5 579.6,204.0 536.9,237.6 506.1,199.0" fill="none" stroke="#666" stroke-width="0.57" opacity="0.5"/>
<polygon points="482.9,193.6 498.8,137.2 575.7,109.2 604.4,166.1 591.8,211.5 516.2,225.3" fill="none" stroke="#666" stroke-width="0.62" opacity="0.5"/>
<polygon points="479.4,201.2 498.4,141.2 572.2,116.4 591.9,155.1 601.7,223.6 531.2,231.9" fill="none" stroke="#666" stroke-width="0.53" opacity="0.5"/>
<polygon points="492.3,214.7 496.4,143.0 530.5,103.7 597.4,134.0 608.7,199.7 537.1,232.0" fill="none" stroke="#666" stroke-width="0.80" opacity="0.5"/>
<polygon points="497.1,203.9 499.4,143.8 539.7,124.2 577.6,147.2 590.5,194.3 537.1,218.3" fill="none" stroke="#666" stroke-width="0.52" opacity="0.5"/>
<polygon points="471.6,176.1 511.4,124.3 567.9,120.5 606.1,163.8 579.8,245.0 522.6,235.5" fill="none" stroke="#666" stroke-width="0.74" opacity="0.5"/>
<polygon points="488.9,160.8 534.1,118.3 580.8,117.2 595.9,193.8 577.3,233.9 513.4,223.9" fill="none" stroke="#666" stroke-width="0.70" opacity="0.5"/>
<polygon points="492.2,167.4 523.6,147.0 568.2,147.0 574.9,183.3 556.6,221.2 514.9,204.4" fill="none" stroke="#666" stroke-width="0.76" opacity="0.5"/>
<polygon points="503.1,147.9 542.3,137.1 580.7,140.1 584.5,194.3 544.8,218.6 508.2,200.0" fill="none" stroke="#666" stroke-width="0.66" opacity="0.5"/>
<polygon points="507.6,196.6 516.9,155.5 541.9,133.7 576.7,166.1 586.1,194.8 539.0,213.6" fill="none" stroke="#666" stroke-width="0.63" opacity="0.5"/>
<polygon points="484.4,150.6 547.7,116.2 599.5,143.6 588.6,201.8 557.6,238.3 498.5,207.4" fill="none" stroke="#666" stroke-width="0.77" opacity="0.5"/>
<polygon points="473.7,170.7 517.9,130.9 571.9,113.3 597.3,173.9 559.0,236.1 507.1,218.2" fill="none" stroke="#666" stroke-width="0.59" opacity="0.5"/>
<polygon points="469.6,185.0 504.8,133.9 554.4,105.1 601.3,160.4 590.9,216.4 532.7,239.6" fill="none" stroke="#666" stroke-width="0.55" opacity="0.5"/>
<polygon points="481.0,183.9 498.8,127.8 558.2,106.2 596.2,162.1 588.8,214.3 511.8,230.6" fill="none" stroke="#666" stroke-width="0.74" opacity="0.5"/>
<polygon points="479.0,166.4 530.0,115.4 588.3,130.9 603.5,181.9 568.0,236.9 509.6,212.3" fill="none" stroke="#666" stroke-width="0.78" opacity="0.5"/>
<polygon points="516.4,169.1 532.3,155.9 558.5,146.7 562.3,177.0 554.3,201.8 533.9,186.1" fill="none" stroke="#000" stroke-width="0.92" opacity="0.75"/>
<polygon points="496.7,176.0 534.8,150.4 566.3,130.9 572.2,177.3 556.6,219.5 525.5,192.5" fill="none" stroke="#000" stroke-width="1.00" opacity="0.75"/>
<polygon points="515.7,188.3 533.6,158.0 555.8,142.3 566.2,169.1 573.8,198.6 539.9,197.5" fill="none" stroke="#000" stroke-width="0.94" opacity="0.75"/>
<polygon points="495.8,175.6 538.6,146.0 575.7,137.5 575.6,175.9 561.9,216.0 531.8,201.9" fill="none" stroke="#000" stroke-width="1.09" opacity="0.75"/>
<polygon points="517.1,182.0 536.6,160.5 553.4,148.8 561.5,169.9 564.1,197.9 540.3,190.7" fill="none" stroke="#000" stroke-width="0.75" opacity="0.75"/>
<polygon points="516.7,177.6 533.2,160.9 555.9,146.6 562.8,169.8 563.9,190.3 539.1,187.1" fill="none" stroke="#000" stroke-width="0.90" opacity="0.75"/>
<polygon points="504.5,176.1 532.0,157.4 569.3,145.9 564.8,175.6 564.9,208.3 536.4,197.3" fill="none" stroke="#000" stroke-width="0.92" opacity="0.75"/>
<polygon points="515.8,170.8 540.1,158.9 558.1,147.5 559.5,177.3 556.0,198.6 535.8,186.2" fill="none" stroke="#000" stroke-width="0.76" opacity="0.75"/>
<polygon points="514.3,171.7 532.5,154.0 555.9,142.3 563.6,172.4 566.7,197.2 535.5,188.2" fill="none" stroke="#000" stroke-width="0.76" opacity="0.75"/>
<polygon points="513.9,168.6 540.9,151.4 567.0,150.0 565.7,174.9 559.2,205.8 531.3,184.3" fill="none" stroke="#000" stroke-width="0.74" opacity="0.75"/>
<polygon points="504.7,184.5 532.3,153.3 559.6,134.7 569.9,171.0 563.2,209.8 538.0,202.5" fill="none" stroke="#000" stroke-width="1.04" opacity="0.75"/>
<polygon points="494.6,165.4 540.6,146.0 576.7,144.9 569.4,181.6 561.6,220.0 523.0,197.6" fill="none" stroke="#000" stroke-width="0.62" opacity="0.75"/>
<polygon points="502.7,156.2 533.1,148.8 572.2,141.5 570.9,184.1 558.8,223.4 525.4,192.6" fill="none" stroke="#000" stroke-width="0.73" opacity="0.75"/>
<polygon points="500.0,184.0 531.8,153.0 568.4,131.9 572.7,174.6 577.0,206.2 531.4,194.8" fill="none" stroke="#000" stroke-width="0.74" opacity="0.75"/>
<polygon points="516.1,170.4 532.8,159.3 554.4,145.9 564.7,175.7 564.6,197.2 536.4,189.2" fill="none" stroke="#000" stroke-width="0.78" opacity="0.75"/>
<polygon points="509.5,182.3 527.8,153.4 553.8,137.6 566.4,164.7 572.1,204.9 537.8,197.2" fill="none" stroke="#000" stroke-width="0.91" opacity="0.75"/>
<polygon points="506.5,168.8 535.6,154.6 566.6,144.1 564.2,172.7 558.8,208.4 528.3,187.0" fill="none" stroke="#000" stroke-width="1.05" opacity="0.75"/>
<polygon points="498.6,179.6 526.1,150.8 557.1,129.6 565.5,167.2 568.9,200.4 539.2,200.1" fill="none" stroke="#000" stroke-width="0.62" opacity="0.75"/>
<polygon points="513.9,186.7 527.8,163.3 552.7,146.4 559.2,173.8 557.0,195.0 535.5,190.6" fill="none" stroke="#000" stroke-width="0.96" opacity="0.75"/>
<polygon points="518.3,185.7 534.7,163.0 547.9,148.5 562.8,170.4 566.4,193.0 542.3,191.4" fill="none" stroke="#000" stroke-width="0.81" opacity="0.75"/>
<polygon points="518.3,174.7 535.2,159.9 558.1,151.0 561.3,174.2 555.0,198.5 538.5,192.3" fill="none" stroke="#000" stroke-width="1.06" opacity="0.75"/>
<polygon points="510.8,184.5 529.7,158.0 551.7,136.0 564.9,172.9 566.4,202.7 534.2,194.8" fill="none" stroke="#000" stroke-width="0.73" opacity="0.75"/>
<polygon points="512.4,178.9 529.3,157.4 552.2,140.0 560.5,171.2 561.0,200.1 531.7,188.9" fill="none" stroke="#000" stroke-width="0.84" opacity="0.75"/>
<polygon points="506.7,159.2 535.4,151.6 575.7,141.2 571.4,181.2 562.7,207.1 532.8,191.6" fill="none" stroke="#000" stroke-width="0.95" opacity="0.75"/>
<polygon points="503.1,163.7 541.5,148.2 574.3,133.0 571.4,176.4 557.1,216.8 531.5,192.9" fill="none" stroke="#000" stroke-width="0.82" opacity="0.75"/>
<polygon points="507.0,163.3 535.6,153.9 568.5,152.8 564.2,184.0 556.5,211.4 525.9,189.8" fill="none" stroke="#000" stroke-width="0.98" opacity="0.75"/>
<polygon points="510.6,169.4 541.9,153.7 565.0,152.2 563.3,177.7 552.7,206.8 532.5,186.8" fill="none" stroke="#000" stroke-width="0.92" opacity="0.75"/>
<polygon points="498.6,176.2 530.5,155.4 568.9,144.2 566.8,178.1 558.2,209.3 531.9,193.5" fill="none" stroke="#000" stroke-width="0.96" opacity="0.75"/>
<polygon points="503.8,181.7 533.6,154.3 560.6,138.0 568.7,174.1 570.3,206.2 532.7,198.7" fill="none" stroke="#000" stroke-width="0.78" opacity="0.75"/>
<polygon points="499.0,191.2 525.8,153.5 547.7,128.9 570.1,166.3 571.7,206.0 539.1,197.6" fill="none" stroke="#000" stroke-width="0.70" opacity="0.75"/>
<polygon points="511.2,174.0 530.6,151.1 562.1,139.7 567.0,167.9 569.7,204.7 535.7,191.1" fill="none" stroke="#000" stroke-width="1.03" opacity="0.75"/>
<polygon points="507.8,183.6 527.6,160.0 549.9,140.7 562.9,167.6 573.5,198.4 541.1,196.1" fill="none" stroke="#000" stroke-width="1.08" opacity="0.75"/>
<polygon points="498.6,177.8 529.8,153.5 571.2,133.9 571.7,175.1 557.0,212.9 523.5,195.0" fill="none" stroke="#000" stroke-width="1.06" opacity="0.75"/>
<polygon points="503.2,156.0 536.6,147.3 570.3,144.3 567.5,173.3 560.7,207.0 527.7,191.5" fill="none" stroke="#000" stroke-width="0.87" opacity="0.75"/>
<polygon points="510.4,169.8 530.5,153.8 563.3,143.4 566.0,170.5 561.0,200.6 538.6,190.7" fill="none" stroke="#000" stroke-width="0.99" opacity="0.75"/>
<polygon points="516.7,180.6 532.1,161.2 548.6,144.9 559.2,168.2 566.5,189.4 538.6,189.2" fill="none" stroke="#000" stroke-width="0.63" opacity="0.75"/>
<polygon points="512.8,163.7 539.5,151.8 569.6,149.6 561.8,174.1 547.3,203.3 526.6,182.7" fill="none" stroke="#000" stroke-width="1.07" opacity="0.75"/>
<polygon points="512.4,163.6 533.8,153.4 569.1,151.4 560.1,172.5 555.9,198.9 533.2,186.5" fill="none" stroke="#000" stroke-width="0.93" opacity="0.75"/>
<polygon points="492.8,170.8 533.5,152.9 562.1,133.2 566.8,178.9 570.9,215.5 533.0,200.1" fill="none" stroke="#000" stroke-width="0.77" opacity="0.75"/>
<polygon points="503.5,160.5 537.2,146.0 570.0,139.4 572.1,173.2 559.8,207.3 532.2,193.0" fill="none" stroke="#000" stroke-width="0.90" opacity="0.75"/>
<polygon points="507.3,179.1 524.9,154.2 556.0,137.8 568.8,164.0 573.0,207.0 533.6,195.4" fill="none" stroke="#000" stroke-width="1.05" opacity="0.75"/>
<polygon points="499.4,187.7 522.2,157.9 546.3,134.9 566.0,166.6 575.2,193.5 536.2,197.0" fill="none" stroke="#000" stroke-width="0.61" opacity="0.75"/>
<polygon points="513.1,171.2 537.8,153.6 562.1,147.5 563.1,170.4 556.4,198.0 538.4,190.8" fill="none" stroke="#000" stroke-width="0.70" opacity="0.75"/>
<polygon points="495.6,176.4 524.1,150.2 561.3,133.8 568.4,168.6 578.9,204.7 531.6,200.1" fill="none" stroke="#000" stroke-width="0.70" opacity="0.75"/>
<polygon points="508.6,187.1 524.9,161.3 555.1,138.9 566.3,168.5 572.8,196.0 535.3,194.1" fill="none" stroke="#000" stroke-width="0.82" opacity="0.75"/>
<polygon points="514.2,159.9 541.8,154.1 566.1,155.5 560.5,176.3 545.0,202.3 529.5,183.6" fill="none" stroke="#000" stroke-width="0.80" opacity="0.75"/>
<polygon points="504.0,163.9 542.3,145.2 582.4,139.0 576.0,176.1 560.0,216.5 525.1,193.6" fill="none" stroke="#000" stroke-width="0.97" opacity="0.75"/>
<polygon points="513.0,178.4 532.4,154.1 563.3,142.9 560.8,173.3 562.1,195.4 533.6,189.6" fill="none" stroke="#000" stroke-width="0.87" opacity="0.75"/>
<polygon points="509.6,167.9 534.6,156.4 562.8,147.4 566.0,168.7 561.7,198.7 539.6,189.8" fill="none" stroke="#000" stroke-width="0.98" opacity="0.75"/>
<polygon points="513.4,168.9 538.8,154.5 569.5,151.9 564.8,181.1 555.0,207.3 528.9,186.5" fill="none" stroke="#000" stroke-width="0.73" opacity="0.75"/>
<polygon points="515.5,165.9 536.6,160.5 563.2,152.1 561.1,175.8 553.3,197.5 536.4,186.1" fill="none" stroke="#000" stroke-width="0.92" opacity="0.75"/>
<polygon points="499.1,159.9 536.3,148.0 571.1,139.5 574.4,172.8 556.6,217.4 531.1,194.4" fill="none" stroke="#000" stroke-width="0.83" opacity="0.75"/>
<polygon points="502.3,188.6 523.6,155.6 562.3,131.2 566.4,170.7 573.3,207.7 537.0,199.0" fill="none" stroke="#000" stroke-width="0.95" opacity="0.75"/>
<polygon points="492.2,178.2 529.7,148.3 557.9,126.2 568.1,168.4 562.8,212.2 531.6,202.3" fill="none" stroke="#000" stroke-width="1.07" opacity="0.75"/>
<polygon points="508.9,184.5 528.6,160.9 548.1,142.6 563.8,166.7 564.4,198.8 537.0,188.1" fill="none" stroke="#000" stroke-width="0.74" opacity="0.75"/>
<polygon points="494.9,176.4 524.9,151.8 568.5,138.5 567.5,175.2 559.0,217.4 528.2,193.5" fill="none" stroke="#000" stroke-width="0.63" opacity="0.75"/>
<polygon points="507.0,158.2 539.0,146.0 567.3,142.2 570.3,176.7 556.6,207.4 528.9,190.3" fill="none" stroke="#000" stroke-width="0.78" opacity="0.75"/>
<polygon points="496.8,147.7 533.8,146.3 580.0,146.5 566.2,181.2 558.6,212.2 518.6,189.2" fill="none" stroke="#000" stroke-width="0.88" opacity="0.75"/>
<polygon points="511.0,168.0 533.4,151.4 564.9,146.6 567.2,177.1 564.0,200.4 536.0,190.2" fill="none" stroke="#000" stroke-width="1.09" opacity="0.75"/>
<polygon points="509.3,178.8 531.9,154.2 552.9,134.6 564.6,161.1 570.6,191.3 541.5,190.7" fill="none" stroke="#000" stroke-width="0.85" opacity="0.75"/>
<polygon points="506.4,163.2 536.0,151.3 561.9,139.2 561.7,172.0 558.9,204.7 532.3,190.5" fill="none" stroke="#000" stroke-width="0.74" opacity="0.75"/>
<polygon points="492.1,164.8 530.7,148.5 567.0,137.9 574.2,172.7 560.2,211.4 526.8,194.3" fill="none" stroke="#000" stroke-width="1.09" opacity="0.75"/>
<polygon points="506.6,164.4 539.0,153.8 565.0,147.6 561.8,177.8 550.0,209.6 528.9,186.0" fill="none" stroke="#000" stroke-width="0.71" opacity="0.75"/>
<polygon points="514.3,182.6 527.3,159.8 557.4,139.2 566.2,166.6 568.6,200.0 540.2,192.1" fill="none" stroke="#000" stroke-width="0.66" opacity="0.75"/>
<polygon points="502.6,164.8 539.7,145.5 567.4,141.0 566.6,178.0 548.9,214.1 526.2,192.7" fill="none" stroke="#000" stroke-width="0.86" opacity="0.75"/>
<polygon points="505.9,181.3 535.5,157.0 561.2,140.1 563.5,176.3 568.6,199.7 534.5,194.8" fill="none" stroke="#000" stroke-width="1.01" opacity="0.75"/>
<polygon points="511.6,168.2 535.5,154.4 565.0,143.5 563.2,179.0 555.9,202.0 528.3,188.8" fill="none" stroke="#000" stroke-width="0.87" opacity="0.75"/>
<polygon points="515.8,176.5 540.2,157.3 563.9,145.5 567.0,173.1 558.7,206.7 535.8,188.4" fill="none" stroke="#000" stroke-width="0.63" opacity="0.75"/>
<polygon points="505.3,165.5 541.0,152.3 570.8,150.8 562.5,174.5 557.9,203.7 527.5,188.5" fill="none" stroke="#000" stroke-width="1.02" opacity="0.75"/>
<polygon points="518.9,180.5 533.5,160.1 547.5,147.1 559.7,168.3 565.0,191.6 540.2,189.3" fill="none" stroke="#000" stroke-width="0.90" opacity="0.75"/>
<polygon points="514.4,170.6 537.3,158.5 565.0,146.6 563.6,172.9 563.3,199.9 535.5,186.2" fill="none" stroke="#000" stroke-width="1.01" opacity="0.75"/>
<polygon points="494.0,181.9 526.5,150.7 565.2,138.8 573.9,175.4 567.9,216.2 526.5,197.9" fill="none" stroke="#000" stroke-width="0.85" opacity="0.75"/>
<polygon points="507.2,179.0 526.1,155.4 559.9,135.2 570.5,168.8 569.8,199.1 544.1,195.6" fill="none" stroke="#000" stroke-width="0.97" opacity="0.75"/>
<polygon points="509.9,176.9 531.5,159.8 555.4,143.2 562.4,171.6 564.9,196.4 537.5,192.9" fill="none" stroke="#000" stroke-width="0.65" opacity="0.75"/>
<polygon points="519.3,174.4 535.1,155.7 560.7,149.7 558.6,171.0 558.7,193.1 534.5,183.1" fill="none" stroke="#000" stroke-width="1.07" opacity="0.75"/>
<polygon points="507.5,164.1 539.7,152.0 571.2,142.0 564.7,181.4 545.5,204.6 525.3,185.8" fill="none" stroke="#000" stroke-width="0.71" opacity="0.75"/>
<polygon points="509.0,169.8 537.5,152.4 570.4,141.2 567.2,177.9 555.9,206.2 531.6,186.1" fill="none" stroke="#000" stroke-width="0.87" opacity="0.75"/>
<polygon points="508.0,177.3 529.1,152.4 561.8,133.1 565.7,167.4 574.7,194.5 534.0,194.5" fill="none" stroke="#000" stroke-width="0.70" opacity="0.75"/>
<polygon points="519.4,172.2 537.2,158.2 560.6,151.0 564.5,171.6 556.9,199.1 541.2,189.3" fill="none" stroke="#000" stroke-width="0.99" opacity="0.75"/>
<polygon points="507.6,175.8 532.3,159.6 563.6,150.6 564.5,173.6 562.5,209.0 534.0,195.4" fill="none" stroke="#000" stroke-width="0.79" opacity="0.75"/>
<polygon points="501.9,183.3 530.9,152.3 556.4,133.3 567.7,167.2 569.2,209.5 533.3,196.2" fill="none" stroke="#000" stroke-width="0.61" opacity="0.75"/>
<polygon points="514.7,172.6 536.1,156.4 559.6,150.1 558.5,171.8 560.2,194.6 535.3,183.7" fill="none" stroke="#000" stroke-width="1.06" opacity="0.75"/>
<polygon points="509.2,175.7 525.4,155.3 549.4,134.4 565.6,166.9 567.0,203.2 542.7,195.6" fill="none" stroke="#000" stroke-width="0.60" opacity="0.75"/>
<polygon points="507.7,185.0 528.1,159.5 550.9,137.7 567.4,169.0 568.8,203.8 537.5,196.4" fill="none" stroke="#000" stroke-width="0.64" opacity="0.75"/>
<polygon points="506.3,172.4 533.0,151.6 567.9,145.8 570.2,170.4 558.9,212.9 529.6,195.4" fill="none" stroke="#000" stroke-width="0.80" opacity="0.75"/>
<polygon points="472.7,67.5 553.5,104.5 616.0,137.4 624.4,153.9 622.7,170.4 546.9,274.3 523.8,271.0 500.7,262.7 426.5,178.6 423.2,129.2" fill="none" stroke="#000" stroke-width="3.7" stroke-linejoin="miter" stroke-miterlimit="3" opacity="1"/>
<polygon points="530.3,113.9 590.0,150.0 600.0,197.0 491.0,231.0 480.0,200.0 467.0,157.0" fill="none" stroke="#000" stroke-width="3" stroke-linejoin="miter" stroke-miterlimit="3" opacity="1"/>
<polygon points="529.0,119.8 541.0,125.8 575.0,160.0 560.0,205.0 511.3,210.1 493.4,210.1 492.4,193.3" fill="none" stroke="#000" stroke-width="2.4" stroke-linejoin="miter" stroke-miterlimit="3" opacity="1"/>
<polygon points="483.0,160.0 567.5,122.5 597.0,169.0 590.0,195.0 558.6,226.0 485.0,181.0" fill="none" stroke="#000" stroke-width="6" stroke-linejoin="miter" stroke-miterlimit="3" opacity="1"/>
<polygon points="498.0,169.0 539.0,133.0 567.0,135.0 580.0,164.0 576.0,192.0 539.0,210.0 501.0,187.0" fill="none" stroke="#000" stroke-width="3.8" stroke-linejoin="miter" stroke-miterlimit="3" opacity="1"/>
<polygon points="491.2,165.1 561.8,131.9 589.3,172.0 585.0,191.0 549.0,225.6 489.0,180.7" fill="none" stroke="#000" stroke-width="5" stroke-linejoin="miter" stroke-miterlimit="3" opacity="1"/>
<polygon points="458.0,112.0 604.6,100.5 619.4,119.3 598.0,252.8 525.5,272.6 502.4,267.7 461.2,150.6 456.1,135.2" fill="none" stroke="#000" stroke-width="6.5" stroke-linejoin="miter" stroke-miterlimit="3" opacity="1"/>
</g>
<line x1="660.2" y1="27.8" x2="680.5" y2="27.8" stroke="#000" stroke-width="10.4" stroke-linecap="round"/>
<line x1="660.2" y1="41.8" x2="680.5" y2="41.8" stroke="#000" stroke-width="7.3" stroke-linecap="round"/>
<line x1="660.2" y1="55.9" x2="680.5" y2="55.9" stroke="#000" stroke-width="5" stroke-linecap="round"/>
<line x1="660.2" y1="69.7" x2="680.5" y2="69.7" stroke="#000" stroke-width="3" stroke-linecap="round"/>
<line x1="660.2" y1="83.6" x2="680.5" y2="83.6" stroke="#111" stroke-width="2.2" stroke-linecap="round"/>
<line x1="660.2" y1="97.4" x2="680.5" y2="97.4" stroke="#888" stroke-width="1.1" stroke-linecap="round"/>
<text x="691.3" y="32.0" font-size="12" text-anchor="start" fill="#222" stroke="#222" stroke-width="0.25" font-weight="normal" font-family="Liberation Sans, sans-serif">3800</text>
<text x="691.3" y="46.0" font-size="12" text-anchor="start" fill="#222" stroke="#222" stroke-width="0.25" font-weight="normal" font-family="Liberation Sans, sans-serif">2500</text>
<text x="691.3" y="60.1" font-size="12" text-anchor="start" fill="#222" stroke="#222" stroke-width="0.25" font-weight="normal" font-family="Liberation Sans, sans-serif">1700</text>
<text x="691.3" y="73.9" font-size="12" text-anchor="start" fill="#222" stroke="#222" stroke-width="0.25" font-weight="normal" font-family="Liberation Sans, sans-serif">900</text>
<text x="691.3" y="87.8" font-size="12" text-anchor="start" fill="#222" stroke="#222" stroke-width="0.25" font-weight="normal" font-family="Liberation Sans, sans-serif">500</text>
<text x="691.3" y="101.6" font-size="12" text-anchor="start" fill="#222" stroke="#222" stroke-width="0.25" font-weight="normal" font-family="Liberation Sans, sans-serif">100</text>
</svg></body></html>
